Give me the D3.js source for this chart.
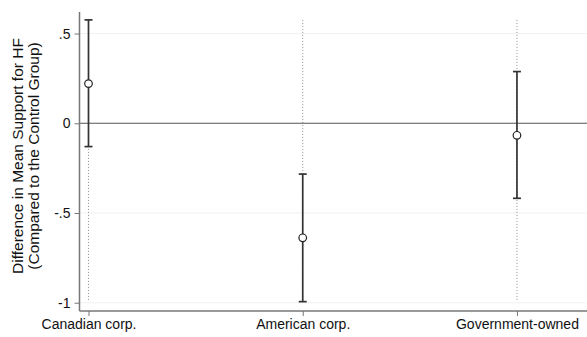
<!DOCTYPE html>
<html>
<head>
<meta charset="utf-8">
<script src="https://cdn.jsdelivr.net/npm/d3@7"></script>
<style>
  body { margin: 0; background: #fff; }
  text { font-family: "Liberation Sans", Arial, Helvetica, sans-serif; fill: #111; }
</style>
</head>
<body>
<script>
const categories = ["Canadian corp.", "American corp.", "Government-owned"];
const estimates = [0.221, -0.638, -0.067];
const lowerCI = [-0.130, -0.994, -0.418];
const upperCI = [0.576, -0.283, 0.288];
const yTicks = [-1, -0.5, 0, 0.5];
const yTickLabels = ["-1", "-.5", "0", ".5"];

const W = 587, H = 337;
const margin = {top: 12, right: 0, bottom: 26, left: 79.5};

const svg = d3.select("body").append("svg")
    .attr("width", W)
    .attr("height", H);

const x = d3.scaleLinear()
    .domain([0.958, 3.327])
    .range([margin.left, W - margin.right]);

const y = d3.scaleLinear()
    .domain([-1.046, 0.62])
    .range([H - margin.bottom, margin.top]);

// faint grid
svg.append("g").selectAll("line")
    .data(yTicks.filter(d => d !== 0))
    .join("line")
    .attr("x1", margin.left).attr("x2", W)
    .attr("y1", d => y(d)).attr("y2", d => y(d))
    .attr("stroke", "#f1f1f1")
    .attr("stroke-width", 1);

// dotted guide lines per category
svg.append("g").selectAll("line")
    .data(categories)
    .join("line")
    .attr("x1", (d, i) => x(i + 1)).attr("x2", (d, i) => x(i + 1))
    .attr("y1", y(0.576)).attr("y2", y(-0.985))
    .attr("stroke", "#8f8f8f")
    .attr("stroke-width", 1)
    .attr("stroke-dasharray", "1,2");

// zero line
svg.append("line")
    .attr("x1", margin.left).attr("x2", W)
    .attr("y1", y(0)).attr("y2", y(0))
    .attr("stroke", "#555")
    .attr("stroke-width", 1.2);

// confidence intervals
const ci = svg.append("g").selectAll("g")
    .data(categories)
    .join("g");

ci.append("line")
    .attr("x1", (d, i) => x(i + 1)).attr("x2", (d, i) => x(i + 1))
    .attr("y1", (d, i) => y(upperCI[i])).attr("y2", (d, i) => y(lowerCI[i]))
    .attr("stroke", "#333")
    .attr("stroke-width", 1.7);

ci.append("line")
    .attr("x1", (d, i) => x(i + 1) - 4).attr("x2", (d, i) => x(i + 1) + 4)
    .attr("y1", (d, i) => y(upperCI[i])).attr("y2", (d, i) => y(upperCI[i]))
    .attr("stroke", "#333")
    .attr("stroke-width", 1.7);

ci.append("line")
    .attr("x1", (d, i) => x(i + 1) - 4).attr("x2", (d, i) => x(i + 1) + 4)
    .attr("y1", (d, i) => y(lowerCI[i])).attr("y2", (d, i) => y(lowerCI[i]))
    .attr("stroke", "#333")
    .attr("stroke-width", 1.7);

ci.append("circle")
    .attr("cx", (d, i) => x(i + 1))
    .attr("cy", (d, i) => y(estimates[i]))
    .attr("r", 3.8)
    .attr("fill", "#fff")
    .attr("stroke", "#222")
    .attr("stroke-width", 1.2);

// y axis
const yAxis = svg.append("g")
    .attr("transform", `translate(${margin.left},0)`)
    .call(d3.axisLeft(y)
        .tickValues(yTicks)
        .tickFormat((d, i) => yTickLabels[i])
        .tickSize(5)
        .tickPadding(4));
yAxis.select(".domain")
    .attr("d", `M0,${margin.top}V${H - margin.bottom}`)
    .attr("stroke", "#777").attr("stroke-width", 1.5);
yAxis.selectAll(".tick line").attr("stroke", "#777");
yAxis.selectAll(".tick text").attr("font-size", 14).attr("fill", "#111");

// x axis
const xAxis = svg.append("g")
    .attr("transform", `translate(0,${H - margin.bottom})`)
    .call(d3.axisBottom(x)
        .tickValues([1, 2, 3])
        .tickFormat((d, i) => categories[i])
        .tickSize(5)
        .tickPadding(3));
xAxis.select(".domain")
    .attr("d", `M${margin.left},0H${W}`)
    .attr("stroke", "#777").attr("stroke-width", 1.5);
xAxis.selectAll(".tick line").attr("stroke", "#777");
xAxis.selectAll(".tick text").attr("font-size", 14).attr("fill", "#111");

// y title
const title = svg.append("text")
    .attr("transform", `translate(23,156) rotate(-90)`)
    .attr("text-anchor", "middle")
    .attr("font-size", 15.5);
title.append("tspan").attr("x", 0).attr("dy", 0).text("Difference in Mean Support for HF");
title.append("tspan").attr("x", 0).attr("dy", 16).text("(Compared to the Control Group)");
</script>
</body>
</html>
